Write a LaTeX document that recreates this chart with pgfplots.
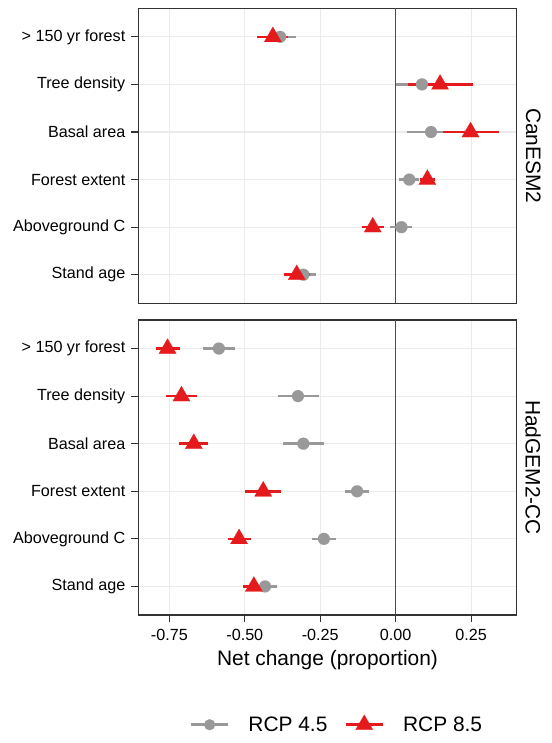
\documentclass[border=0pt]{standalone}
\usepackage{fontspec}
\setmainfont{Liberation Sans}
\usepackage{pgfplots}
\pgfplotsset{compat=1.18}
\usepackage{pgfplotstable}
\definecolor{c45}{RGB}{153,153,153}
\definecolor{c85}{RGB}{228,26,28}
\definecolor{gridc}{RGB}{235,235,235}
\definecolor{borderc}{RGB}{51,51,51}
\definecolor{vlinec}{RGB}{77,77,77}

% CanESM2, RCP 4.5
\pgfplotstableread{
y x lo hi
6 -0.383 -0.430 -0.330
5 0.087 0.000 0.170
4 0.117 0.036 0.200
3 0.045 0.012 0.078
2 0.019 -0.019 0.053
1 -0.306 -0.345 -0.265
}\canA
% CanESM2, RCP 8.5
\pgfplotstableread{
y x lo hi
6 -0.407 -0.460 -0.356
5 0.147 0.042 0.255
4 0.248 0.158 0.343
3 0.105 0.080 0.130
2 -0.076 -0.113 -0.039
1 -0.328 -0.369 -0.284
}\canB
% HadGEM2-CC, RCP 4.5
\pgfplotstableread{
y x lo hi
6 -0.586 -0.639 -0.531
5 -0.324 -0.391 -0.255
4 -0.306 -0.373 -0.237
3 -0.128 -0.167 -0.087
2 -0.238 -0.278 -0.198
1 -0.433 -0.471 -0.394
}\hadA
% HadGEM2-CC, RCP 8.5
\pgfplotstableread{
y x lo hi
6 -0.756 -0.796 -0.714
5 -0.710 -0.761 -0.659
4 -0.669 -0.717 -0.621
3 -0.439 -0.498 -0.380
2 -0.519 -0.555 -0.481
1 -0.470 -0.507 -0.433
}\hadB

\pgfplotsset{
  panel/.style={
    scale only axis, width=378.4bp, height=295bp,
    xmin=-0.853, xmax=0.401, ymin=0.4, ymax=6.6,
    xtick={-0.75,-0.5,-0.25,0,0.25},
    ytick={1,2,3,4,5,6},
    yticklabels={Stand age,Aboveground C,Forest extent,Basal area,Tree density,> 150 yr forest},
    grid=major, major grid style={draw=gridc, line width=1.2bp},
    axis line style={draw=borderc, line width=1.3bp},
    tick style={draw=borderc, line width=1.2bp},
    tick align=outside, major tick length=7bp,
    xtick pos=bottom, ytick pos=left,
    ticklabel style={font=\fontsize{16.2}{19}\selectfont, text=black},
    yticklabel style={xshift=-2.5bp},
    xticklabel style={yshift=-4bp},
    clip=false,
  },
  rangeA/.style={forget plot, only marks, mark=none,
    error bars/.cd, x dir=both, x explicit, error mark=none,
    error bar style={draw=c45, line width=2.6bp}},
  rangeB/.style={forget plot, only marks, mark=none,
    error bars/.cd, x dir=both, x explicit, error mark=none,
    error bar style={draw=c85, line width=2.6bp}},
  ptA/.style={forget plot, only marks, color=c45, mark=*, mark size=6bp,
    mark options={solid, fill=c45, draw=c45, line width=0.1bp}},
  ptB/.style={forget plot, only marks, color=c85, mark=triangle*, mark size=10bp,
    mark options={solid, fill=c85, draw=c85, line width=0.1bp}},
}

\begin{document}
\begin{tikzpicture}
\path[use as bounding box] (0,0) rectangle (552bp,743bp);

% top panel: CanESM2
\begin{axis}[panel, at={(138.3bp,439.7bp)}, anchor=south west,
  xticklabels={}, xtick style={draw=none}]
  \addplot[forget plot, draw=vlinec, line width=1.5bp] coordinates {(0,0.4) (0,6.6)};
  \addplot[rangeA] table[x=x, y=y, x error plus expr=\thisrow{hi}-\thisrow{x}, x error minus expr=\thisrow{x}-\thisrow{lo}] {\canA};
  \addplot[rangeB] table[x=x, y=y, x error plus expr=\thisrow{hi}-\thisrow{x}, x error minus expr=\thisrow{x}-\thisrow{lo}] {\canB};
  \addplot[ptA] table[x=x, y=y] {\canA};
  \addplot[ptB] table[x=x, y=y] {\canB};
  \node[font=\fontsize{21}{25}\selectfont, rotate=-90] at ([xshift=16.5bp]rel axis cs:1,0.5) {CanESM2};
\end{axis}

% bottom panel: HadGEM2-CC
\begin{axis}[panel, at={(138.3bp,128bp)}, anchor=south west,
  xticklabels={-0.75,-0.50,-0.25,0.00,0.25},
  xlabel={Net change (proportion)},
  xlabel style={font=\fontsize{21}{25}\selectfont, at={(axis description cs:0.5,0)}, anchor=center, yshift=-45bp},
  legend style={at={(0.525,-0.372)}, anchor=center, draw=none, fill=none,
    legend columns=-1, font=\fontsize{21}{25}\selectfont,
    /tikz/every odd column/.append style={column sep=17bp},
    /tikz/every even column/.append style={column sep=15bp}},
  legend image code/.code={\draw[mark repeat=2,mark phase=2] plot coordinates {(0bp,0bp) (18.5bp,0bp) (37bp,0bp)};}]
  \addlegendimage{color=c45, line width=2.6bp, mark=*, mark size=5.5bp, mark options={solid, fill=c45, draw=c45, line width=0.1bp}}
  \addlegendentry{RCP 4.5}
  \addlegendimage{color=c85, line width=2.6bp, mark=triangle*, mark size=10bp, mark options={solid, fill=c85, draw=c85, line width=0.1bp}}
  \addlegendentry{RCP 8.5}
  \addplot[forget plot, draw=vlinec, line width=1.5bp] coordinates {(0,0.4) (0,6.6)};
  \addplot[rangeA] table[x=x, y=y, x error plus expr=\thisrow{hi}-\thisrow{x}, x error minus expr=\thisrow{x}-\thisrow{lo}] {\hadA};
  \addplot[rangeB] table[x=x, y=y, x error plus expr=\thisrow{hi}-\thisrow{x}, x error minus expr=\thisrow{x}-\thisrow{lo}] {\hadB};
  \addplot[ptA] table[x=x, y=y] {\hadA};
  \addplot[ptB] table[x=x, y=y] {\hadB};
  \node[font=\fontsize{21}{25}\selectfont, rotate=-90] at ([xshift=16.5bp]rel axis cs:1,0.5) {HadGEM2-CC};
\end{axis}
\end{tikzpicture}
\end{document}
